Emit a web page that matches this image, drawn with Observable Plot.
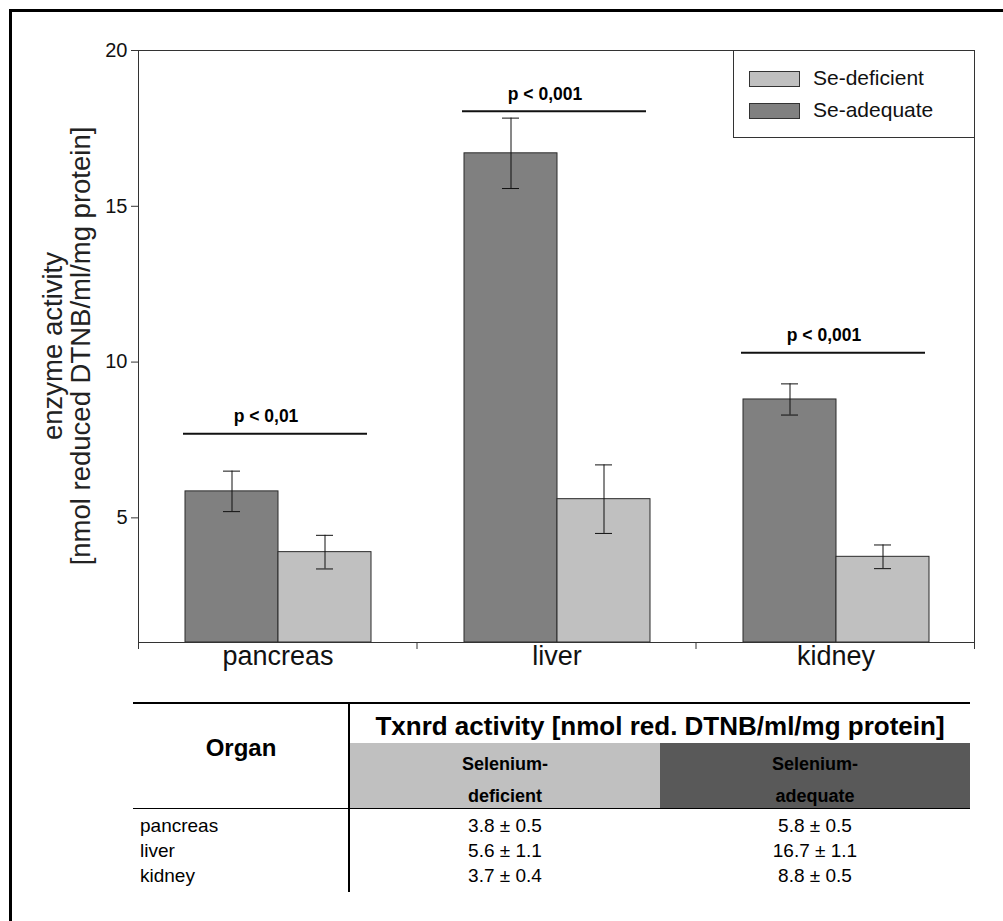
<!DOCTYPE html>
<html><head><meta charset="utf-8">
<script src="https://cdn.jsdelivr.net/npm/d3@7"></script>
<script src="https://cdn.jsdelivr.net/npm/@observablehq/plot@0.6"></script>
<style>
body{margin:0;background:#fff;font-family:"Liberation Sans",Arial,sans-serif;}
#page{position:relative;width:1003px;height:921px;overflow:hidden;background:#fff;}
#border{position:absolute;left:9px;top:9px;width:1100px;height:1000px;border-left:3px solid #000;border-top:3px solid #000;box-sizing:border-box;}
#chart{position:absolute;left:0;top:0;}
.abs{position:absolute;}
</style></head><body>
<div id="page"><div id="border"></div><div id="chart"></div><div id="legend"></div><div id="table"></div></div>
<script>
// ---------- data ----------
const organs = ["pancreas", "liver", "kidney"];
const series = ["Se-adequate", "Se-deficient"];
const adequate = [5.85, 16.7, 8.8];
const adequateErr = [0.65, 1.13, 0.5];
const deficient = [3.9, 5.6, 3.75];
const deficientErr = [0.54, 1.1, 0.38];
const sigLevel = [7.7, 18.05, 10.3];
const sigLabel = ["p < 0,01", "p < 0,001", "p < 0,001"];
const yDomain = [1, 20];
const yTicks = [5, 10, 15, 20];
const yLabel = ["enzyme activity", "[nmol reduced DTNB/ml/mg protein]"];
const legendOrder = ["Se-deficient", "Se-adequate"];
// table
const tableTitle = "Txnrd activity [nmol red. DTNB/ml/mg protein]";
const tableOrganHead = "Organ";
const tableGroupHead = [["Selenium-", "deficient"], ["Selenium-", "adequate"]];
const tableDefMean = [3.8, 5.6, 3.7];
const tableDefSd = [0.5, 1.1, 0.4];
const tableAdqMean = [5.8, 16.7, 8.8];
const tableAdqSd = [0.5, 1.1, 0.5];

// ---------- build rows ----------
const rows = organs.flatMap((o, i) => [
  {organ: o, group: series[0], value: adequate[i], err: adequateErr[i]},
  {organ: o, group: series[1], value: deficient[i], err: deficientErr[i]}
]);
const sig = organs.map((o, i) => ({organ: o, level: sigLevel[i], label: sigLabel[i]}));

const W = 1003, H = 690;
const FONT = "'Liberation Sans', Arial, sans-serif";
const plot = Plot.plot({
  width: W, height: H,
  marginLeft: 137, marginRight: 28, marginTop: 50, marginBottom: H - 642,
  style: {fontFamily: FONT, fontSize: "18px", color: "#111", background: "transparent", overflow: "visible"},
  fx: {domain: organs, padding: 0},
  x: {domain: series, paddingInner: 0, paddingOuter: 0.485, axis: null},
  y: {domain: yDomain},
  color: {domain: series, range: ["#808080", "#c0c0c0"]},
  marks: [
    Plot.ruleY([yDomain[1]], {stroke: "#333", strokeWidth: 1}),
    Plot.barY(rows, {fx: "organ", x: "group", y1: yDomain[0], y2: "value", fill: "group", stroke: "#2a2a2a", strokeWidth: 1}),
    Plot.ruleX(rows, {fx: "organ", x: "group", y1: d => d.value - d.err, y2: d => d.value + d.err, stroke: "#111", strokeWidth: 1}),
    Plot.tickY(rows, {fx: "organ", x: "group", y: d => d.value + d.err, stroke: "#111", insetLeft: 38, insetRight: 38}),
    Plot.tickY(rows, {fx: "organ", x: "group", y: d => d.value - d.err, stroke: "#111", insetLeft: 38, insetRight: 38}),
    Plot.ruleY(sig, {fx: "organ", y: "level", stroke: "#111", strokeWidth: 2, insetLeft: 45, insetRight: 50}),
    Plot.text(sig, {fx: "organ", y: "level", text: "label", dy: -17, dx: -12, fontWeight: "bold", fontSize: 17.5, fill: "#000"}),
    Plot.ruleY([yDomain[0]], {stroke: "#333", strokeWidth: 1}),
    Plot.axisY({ticks: yTicks, tickSize: 7, tickPadding: 4, fontSize: 20, label: null, stroke: "#333"}),
    Plot.axisFx({anchor: "bottom", tickSize: 0, tickPadding: 3, fontSize: 27, label: null})
  ]
});
document.getElementById("chart").appendChild(plot);

// frame lines / boundary ticks from the library's scales
const fxS = plot.scale("fx"), yS = plot.scale("y");
const svg = d3.select(plot);
const left = fxS.apply(organs[0]);
const bounds = organs.map(o => fxS.apply(o)).concat([fxS.apply(organs[organs.length - 1]) + fxS.bandwidth]);
const yTop = yS.apply(yDomain[1]), yBot = yS.apply(yDomain[0]);
const g = svg.append("g").attr("stroke", "#333").attr("stroke-width", 1);
g.append("line").attr("x1", left + 0.5).attr("x2", left + 0.5).attr("y1", yTop).attr("y2", yBot + 7);
g.append("line").attr("x1", bounds[3] - 0.5).attr("x2", bounds[3] - 0.5).attr("y1", yTop).attr("y2", yBot + 7);
bounds.slice(1, 3).forEach(b => g.append("line").attr("x1", b).attr("x2", b).attr("y1", yBot).attr("y2", yBot + 7));
// y axis label (two lines, rotated)
const lab = svg.append("text")
  .attr("transform", `translate(${left - 71},${(yTop + yBot) / 2}) rotate(-90)`)
  .attr("text-anchor", "middle").attr("font-family", FONT).attr("font-size", 27.5).attr("fill", "#222");
lab.append("tspan").attr("x", 0).attr("y", -5).text(yLabel[0]);
lab.append("tspan").attr("x", 0).attr("y", 23).text(yLabel[1]);

// ---------- legend (HTML, colours from the plot's color scale) ----------
const colorS = plot.scale("color");
const colorOf = k => colorS.range[colorS.domain.indexOf(k)];
const legend = document.getElementById("legend");
legend.className = "abs";
Object.assign(legend.style, {left: "733px", top: "50px", width: "242px", height: "88px", border: "1px solid #333", boxSizing: "border-box", background: "#fff"});
legendOrder.forEach((k, i) => {
  const sw = document.createElement("div");
  sw.className = "abs";
  Object.assign(sw.style, {left: "15px", top: (20 + i * 32) + "px", width: "51px", height: "16px", background: colorOf(k), border: "1px solid #333", boxSizing: "border-box"});
  legend.appendChild(sw);
  const t = document.createElement("div");
  t.className = "abs";
  t.textContent = k;
  Object.assign(t.style, {left: "79px", top: (16 + i * 32) + "px", fontSize: "21px", lineHeight: "22px", color: "#111", whiteSpace: "nowrap"});
  legend.appendChild(t);
});

// ---------- table ----------
const table = document.getElementById("table");
function box(css, text) {
  const d = document.createElement("div");
  d.className = "abs";
  if (text != null) d.textContent = text;
  Object.assign(d.style, css);
  table.appendChild(d);
  return d;
}
const T = {left: 133, right: 970, div: 349, mid: 660};
box({left: T.left + "px", top: "702px", width: (T.right - T.left) + "px", height: "2px", background: "#000"});
box({left: (T.div - 1) + "px", top: "702px", width: "2px", height: "190px", background: "#000"});
box({left: T.div + 1 + "px", top: "743px", width: (T.mid - T.div - 1) + "px", height: "65px", background: "#c0c0c0"});
box({left: T.mid + "px", top: "743px", width: (T.right - T.mid) + "px", height: "65px", background: "#595959"});
box({left: T.left + "px", top: "808px", width: (T.right - T.left) + "px", height: "1px", background: "#000"});
box({left: (T.div + 1) + "px", top: "710px", width: (T.right - T.div - 1) + "px", textAlign: "center", fontWeight: "bold", fontSize: "26px", lineHeight: "32px", color: "#000", whiteSpace: "nowrap"}, tableTitle);
box({left: T.left + "px", top: "732px", width: (T.div - T.left) + "px", textAlign: "center", fontWeight: "bold", fontSize: "24px", lineHeight: "32px", color: "#000"}, tableOrganHead);
const cols = [[T.div + 1, T.mid], [T.mid, T.right]];
tableGroupHead.forEach((lines, j) => {
  lines.forEach((ln, k) => box({left: cols[j][0] + "px", top: (751 + k * 32) + "px", width: (cols[j][1] - cols[j][0]) + "px", textAlign: "center", fontWeight: "bold", fontSize: "18px", lineHeight: "26px", color: "#000"}, ln));
});
organs.forEach((o, i) => {
  const top = 813 + i * 25;
  box({left: "140px", top: top + "px", fontSize: "19px", lineHeight: "26px", color: "#000"}, o);
  box({left: cols[0][0] + "px", top: top + "px", width: (cols[0][1] - cols[0][0]) + "px", textAlign: "center", fontSize: "19px", lineHeight: "26px", color: "#000"}, `${tableDefMean[i].toFixed(1)} ± ${tableDefSd[i].toFixed(1)}`);
  box({left: cols[1][0] + "px", top: top + "px", width: (cols[1][1] - cols[1][0]) + "px", textAlign: "center", fontSize: "19px", lineHeight: "26px", color: "#000"}, `${tableAdqMean[i].toFixed(1)} ± ${tableAdqSd[i].toFixed(1)}`);
});
</script></body></html>
